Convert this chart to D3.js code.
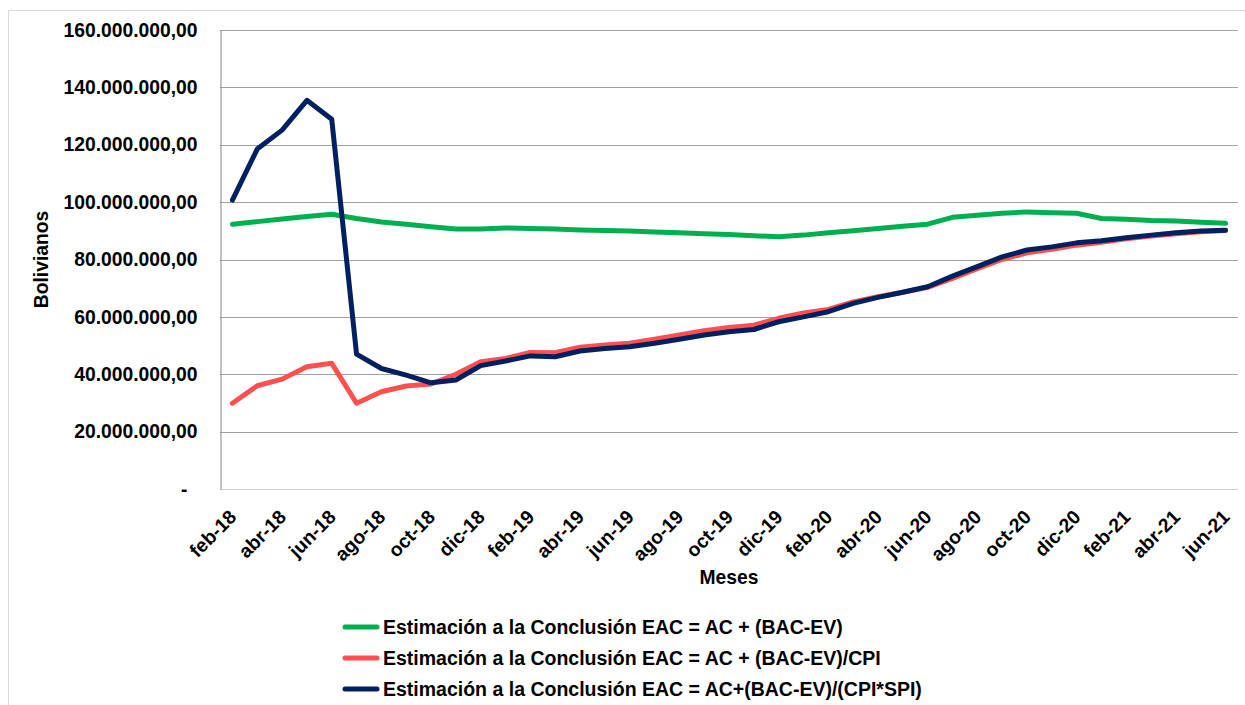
<!DOCTYPE html>
<html>
<head>
<meta charset="utf-8">
<script src="https://cdn.jsdelivr.net/npm/d3@7"></script>
<style>
  html, body { margin: 0; padding: 0; background: #ffffff; }
  svg { display: block; }
  text { font-family: "Liberation Sans", Arial, sans-serif; font-weight: bold; fill: #000; }
</style>
</head>
<body>
<svg id="chart" width="1245" height="705"></svg>
<script>
// Monthly periods, feb-18 .. jun-21
const months = [
  "feb-18","mar-18","abr-18","may-18","jun-18","jul-18","ago-18","sep-18","oct-18","nov-18","dic-18",
  "ene-19","feb-19","mar-19","abr-19","may-19","jun-19","jul-19","ago-19","sep-19","oct-19","nov-19","dic-19",
  "ene-20","feb-20","mar-20","abr-20","may-20","jun-20","jul-20","ago-20","sep-20","oct-20","nov-20","dic-20",
  "ene-21","feb-21","mar-21","abr-21","may-21","jun-21"
];

// EAC estimates, millions of Bolivianos
const eacAcBacEv = [
  92.3, 93.2, 94.1, 95.0, 95.8, 94.3, 93.1, 92.3, 91.4, 90.6, 90.6,
  91.0, 90.8, 90.6, 90.3, 90.1, 89.9, 89.6, 89.3, 89.0, 88.7, 88.3, 87.9,
  88.5, 89.3, 90.0, 90.8, 91.6, 92.3, 94.7, 95.4, 96.1, 96.6, 96.3, 96.1,
  94.3, 94.0, 93.6, 93.4, 93.0, 92.6
];
const eacCpi = [
  29.9, 36.0, 38.3, 42.6, 43.8, 29.9, 33.9, 35.9, 36.6, 40.0, 44.4,
  45.5, 47.6, 47.5, 49.4, 50.2, 50.8, 52.2, 53.7, 55.2, 56.3, 57.1, 59.5,
  61.4, 62.6, 65.2, 67.0, 68.6, 70.3, 73.4, 76.8, 80.0, 82.3, 83.6, 85.0,
  86.0, 87.2, 88.2, 89.0, 89.7, 90.1
];
const eacCpiSpi = [
  100.7, 118.5, 125.1, 135.5, 128.9, 47.0, 42.0, 39.7, 37.0, 38.0, 43.0,
  44.6, 46.4, 46.1, 48.1, 49.0, 49.6, 50.8, 52.2, 53.7, 54.8, 55.6, 58.3,
  60.0, 61.8, 64.7, 66.8, 68.6, 70.5, 74.2, 77.5, 80.9, 83.3, 84.4, 85.8,
  86.5, 87.6, 88.5, 89.3, 89.9, 90.2
];

const yTicks = [0, 20, 40, 60, 80, 100, 120, 140, 160];
const xTickLabels = months.filter((m, i) => i % 2 === 0);

const seriesNames = [
  "Estimación a la Conclusión EAC = AC + (BAC-EV)",
  "Estimación a la Conclusión EAC = AC + (BAC-EV)/CPI",
  "Estimación a la Conclusión EAC = AC+(BAC-EV)/(CPI*SPI)"
];
const seriesColors = ["#00b050", "#ff5050", "#002060"];
const seriesValues = [eacAcBacEv, eacCpi, eacCpiSpi];

const svg = d3.select("#chart");
const FS = 19.3;
const LEGEND_FS = 19.5;

// outer chart frame
svg.append("rect")
  .attr("x", 8.5).attr("y", 10.5)
  .attr("width", 1260).attr("height", 720)
  .attr("fill", "#ffffff")
  .attr("stroke", "#d9d9d9").attr("stroke-width", 1);

const plot = { left: 220, right: 1238, top: 30, bottom: 489 };

const x = d3.scalePoint().domain(months).range([plot.left, plot.right]).padding(0.5);
const y = d3.scaleLinear().domain([0, 160]).range([plot.bottom, plot.top]);

const esLocale = d3.formatLocale({ decimal: ",", thousands: ".", grouping: [3], currency: ["", ""] });
const fmt = esLocale.format(",.2f");

// horizontal gridlines
svg.append("g").selectAll("line")
  .data(yTicks.filter(v => v > 0))
  .join("line")
  .attr("x1", plot.left).attr("x2", plot.right)
  .attr("y1", d => Math.round(y(d)) + 0.5).attr("y2", d => Math.round(y(d)) + 0.5)
  .attr("stroke", "#a0a0a0").attr("stroke-width", 1);

// bottom axis line
svg.append("line")
  .attr("x1", plot.left).attr("x2", plot.right)
  .attr("y1", plot.bottom + 0.5).attr("y2", plot.bottom + 0.5)
  .attr("stroke", "#d0d0d0").attr("stroke-width", 1);

// y axis
const yAxis = d3.axisLeft(y)
  .tickValues(yTicks)
  .tickSize(0)
  .tickPadding(23)
  .tickFormat(d => d === 0 ? "-" : fmt(d * 1e6));
const gy = svg.append("g").attr("transform", `translate(${plot.left + 0.5},0)`).call(yAxis);
gy.select(".domain").attr("stroke", "#868686").attr("stroke-width", 1);
gy.selectAll("text")
  .style("font-family", "'Liberation Sans', Arial, sans-serif")
  .style("font-weight", "bold")
  .style("font-size", FS + "px")
  .attr("fill", "#000")
  .attr("dx", d => d === 0 ? -10 : 0);

// x axis, labels rotated 45 degrees ending at each category
const xAxis = d3.axisBottom(x).tickValues(xTickLabels).tickSize(0).tickPadding(0);
const gx = svg.append("g").attr("transform", `translate(0,${plot.bottom})`).call(xAxis);
gx.select(".domain").remove();
gx.selectAll("text")
  .style("font-family", "'Liberation Sans', Arial, sans-serif")
  .style("font-weight", "bold")
  .style("font-size", FS + "px")
  .attr("fill", "#000")
  .attr("text-anchor", "end")
  .attr("y", 0).attr("dy", "0.35em")
  .attr("transform", "translate(0,24.5) rotate(-45)");

// axis titles
svg.append("text")
  .attr("x", (plot.left + plot.right) / 2).attr("y", 584)
  .attr("text-anchor", "middle")
  .style("font-size", FS + "px")
  .text("Meses");
svg.append("text")
  .attr("transform", `translate(47.5,${(plot.top + plot.bottom) / 2}) rotate(-90)`)
  .attr("text-anchor", "middle")
  .style("font-size", FS + "px")
  .text("Bolivianos");

// series lines
const line = d3.line().x((d, i) => x(months[i])).y(d => y(d));
svg.append("g").selectAll("path")
  .data(seriesValues)
  .join("path")
  .attr("d", d => line(d))
  .attr("fill", "none")
  .attr("stroke", (d, i) => seriesColors[i])
  .attr("stroke-width", 5)
  .attr("stroke-linejoin", "round")
  .attr("stroke-linecap", "round");

// legend
const legend = svg.append("g");
const legendRows = legend.selectAll("g")
  .data(seriesNames)
  .join("g")
  .attr("transform", (d, i) => `translate(0,${627 + i * 31})`);
legendRows.append("line")
  .attr("x1", 345).attr("x2", 377)
  .attr("y1", 0).attr("y2", 0)
  .attr("stroke", (d, i) => seriesColors[i])
  .attr("stroke-width", 5)
  .attr("stroke-linecap", "round");
legendRows.append("text")
  .attr("x", 383).attr("y", 0).attr("dy", "0.35em")
  .style("font-size", LEGEND_FS + "px")
  .text(d => d);
</script>
</body>
</html>
